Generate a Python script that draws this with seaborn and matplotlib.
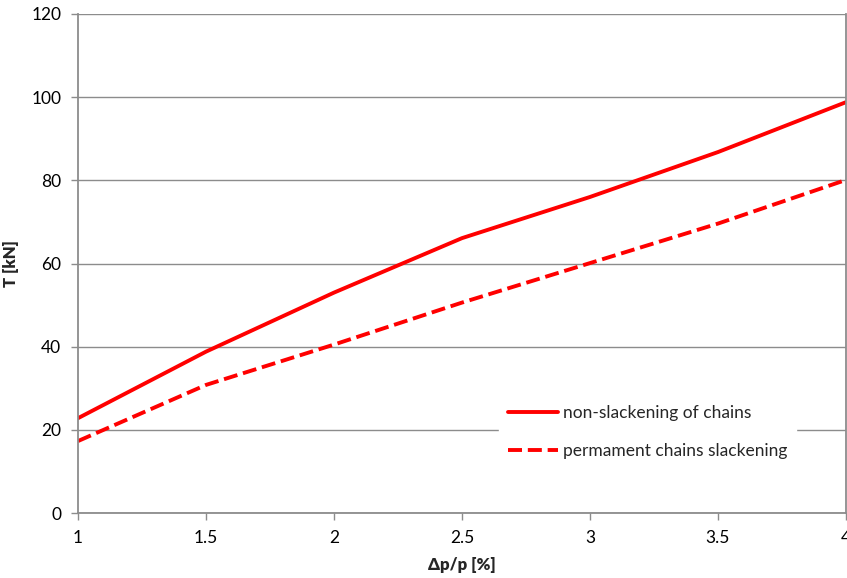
import matplotlib
matplotlib.use("Agg")
import matplotlib.pyplot as plt
import seaborn as sns
import pandas as pd

dp = [1.0, 1.5, 2.0, 2.5, 3.0, 3.5, 4.0]
t_non_slack = [22.8, 38.8, 53.0, 66.1, 76.0, 86.8, 98.8]
t_slack = [17.3, 30.8, 40.5, 50.6, 60.1, 69.6, 80.1]
series_names = ["non-slackening of chains", "permament chains slackening"]
y_ticks = [0, 20, 40, 60, 80, 100, 120]
x_ticks = [1, 1.5, 2, 2.5, 3, 3.5, 4]
x_tick_labels = ["1", "1.5", "2", "2.5", "3", "3.5", "4"]

df = pd.DataFrame({
    "dp": dp + dp,
    "T": t_non_slack + t_slack,
    "series": [series_names[0]] * len(dp) + [series_names[1]] * len(dp),
})

sns.set_style("white")
plt.rcParams['font.family'] = ['Lato', 'DejaVu Sans']

fig = plt.figure(figsize=(8.47, 5.78), dpi=100)
ax = fig.add_axes([78/847, 65/578, (846-78)/847, (513-14)/578])

sns.lineplot(data=df, x="dp", y="T", hue="series", style="series",
             palette={series_names[0]: "#ff0000", series_names[1]: "#ff0000"},
             dashes={series_names[0]: "", series_names[1]: (3.6, 1.5)},
             linewidth=2.8, ax=ax, legend=True)

ax.set_xlim(1, 4)
ax.set_ylim(0, 120)
ax.set_yticks(y_ticks)
ax.set_xticks(x_ticks)
ax.set_xticklabels(x_tick_labels)
ax.yaxis.grid(True, color="#8c8c8c", linewidth=1.0)
ax.xaxis.grid(False)
ax.set_axisbelow(True)
for side in ["left", "bottom", "right"]:
    ax.spines[side].set_visible(True)
    ax.spines[side].set_color("#8c8c8c")
    ax.spines[side].set_linewidth(1.3)
ax.spines["top"].set_visible(False)
ax.tick_params(axis="both", which="both", direction="out", length=5, width=1,
               color="#8c8c8c", labelsize=12.5, labelcolor="black", pad=7)
ax.tick_params(axis="y", left=True)
ax.tick_params(axis="x", bottom=True)

ax.set_xlabel("Δp/p [%]", fontsize=12, fontweight="heavy", labelpad=8)
ax.set_ylabel("T [kN]", fontsize=12, fontweight="heavy", labelpad=9)

leg = ax.legend(loc="center left", bbox_to_anchor=(0.537, 0.162),
                frameon=True, framealpha=1, edgecolor="white", facecolor="white",
                fontsize=12.5, handlelength=2.9, labelspacing=1.25,
                handletextpad=0.3, borderpad=0.5, fancybox=False)
leg.set_title(None)

fig.savefig("out.png", dpi=100)
